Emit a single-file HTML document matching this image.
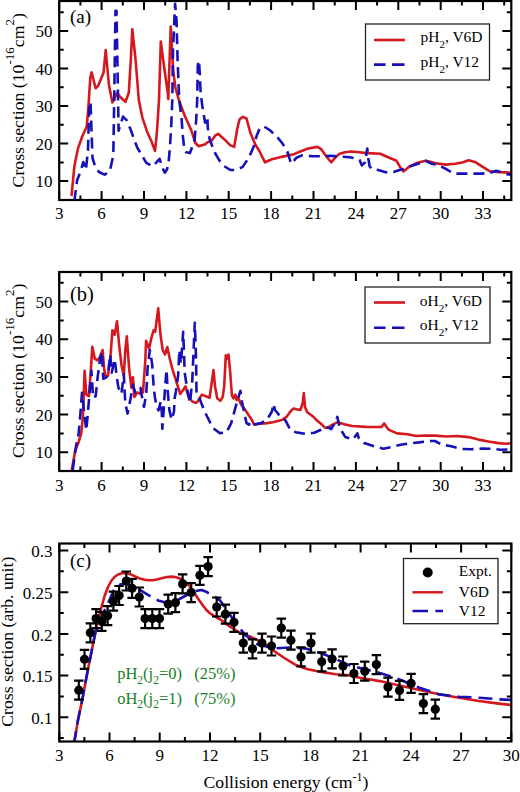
<!DOCTYPE html>
<html><head><meta charset="utf-8"><style>html,body{margin:0;padding:0;background:#fff;width:520px;height:792px;overflow:hidden}svg{display:block}</style></head><body>
<svg width="520" height="792" viewBox="0 0 520 792">
<style>.t{font-family:"Liberation Serif", serif;font-size:17px;fill:#000} .p{font-family:"Liberation Serif", serif;font-size:19px;fill:#000} .a{font-family:"Liberation Serif", serif;font-size:17.7px;fill:#000} .l{font-family:"Liberation Serif", serif;font-size:15.5px;fill:#000} .g{font-family:"Liberation Serif", serif;font-size:16.5px;fill:#1a801f}</style>
<rect width="520" height="792" fill="#fff"/>
<clipPath id="ca"><rect x="59.2" y="1.0" width="452.1" height="199.0"/></clipPath>
<clipPath id="cb"><rect x="59.2" y="272.0" width="452.1" height="199.0"/></clipPath>
<clipPath id="cc"><rect x="59.3" y="543.5" width="452.0" height="198.0"/></clipPath>
<g clip-path="url(#ca)">
<path d="M71.5 196.0L74.4 166.1L78.0 148.4L82.4 136.0L86.8 126.3L88.6 104.2L90.3 77.7L91.6 72.4L95.6 88.3L98.3 85.6L103.6 72.4L105.7 50.0L108.9 84.7L112.4 102.4L117.0 93.2L121.3 98.0L125.5 101.8L128.8 92.7L130.8 60.0L132.3 29.2L135.6 60.0L138.8 100.0L142.3 117.3L146.9 131.2L151.5 141.5L155.0 150.8L156.7 134.6L157.9 117.3L159.0 100.0L160.8 41.5L164.0 66.0L167.7 92.3L168.3 99.0L170.7 26.5L173.2 70.7L175.4 87.7L178.9 100.0L184.6 115.4L191.5 130.8L195.4 143.0L198.5 146.2L204.6 144.6L207.7 142.3L211.5 140.8L215.4 135.4L218.1 133.8L224.2 139.2L230.4 145.4L234.2 146.9L237.3 128.5L239.6 119.2L242.7 116.9L246.5 118.5L250.4 133.0L255.0 143.8L259.6 151.5L265.0 162.3L271.9 159.2L281.2 156.9L288.8 155.4L292.7 154.6L300.4 151.5L308.1 148.5L317.3 146.9L321.2 149.2L325.0 154.6L331.2 162.3L335.8 156.9L339.6 153.8L345.0 152.3L351.2 151.5L358.8 152.3L367.3 153.1L380.4 153.8L385.8 156.2L396.5 160.8L399.6 166.2L403.5 171.5L408.8 166.9L416.5 163.1L425.8 160.8L430.4 161.8L436.3 163.4L445.8 164.6L455.2 163.8L463.1 162.3L468.6 160.2L475.7 162.3L483.6 167.3L489.9 171.3L496.2 172.0L504.1 172.4L513.0 172.8" stroke="#d4181e" stroke-width="2.6" fill="none" stroke-linejoin="round"/>
<path d="M74.4 201.0L77.1 180.2L80.6 171.4L83.3 162.0L85.9 170.0L88.0 150.0L88.8 120.0L89.5 102.4L90.5 102.0L91.5 130.0L92.5 158.0L95.0 166.0L99.0 172.0L104.6 174.6L109.8 171.4L113.3 155.5L114.2 100.0L115.5 10.8L116.5 10.8L117.4 60.0L118.6 130.7L123.0 116.6L126.6 120.1L130.8 130.0L133.7 138.1L137.1 147.3L141.2 154.2L146.3 162.9L152.7 166.3L159.6 158.8L162.5 168.1L164.8 172.7L167.1 169.2L168.8 160.0L170.0 146.2L171.2 126.5L172.3 100.0L173.0 50.0L175.1 3.8L176.5 20.0L177.6 60.0L179.2 100.0L181.5 117.3L182.7 134.6L184.4 149.6L186.2 152.3L190.0 153.0L194.6 140.0L196.2 120.0L197.2 100.0L197.8 65.0L199.0 60.6L199.8 74.2L200.6 92.4L202.9 110.6L205.2 122.7L206.5 118.0L207.4 116.7L207.8 128.0L209.7 139.4L212.0 145.5L215.0 153.0L219.5 160.6L224.2 166.2L230.4 170.0L236.5 170.0L242.7 166.9L248.8 157.7L253.5 146.9L256.5 136.2L259.6 128.5L263.5 126.2L269.6 130.0L276.5 136.2L282.7 143.8L287.3 151.5L291.2 163.8L296.5 157.7L301.9 155.4L312.7 156.2L325.0 156.2L331.2 155.7L338.8 156.6L349.6 157.2L355.8 158.5L359.6 160.0L361.9 165.4L365.0 162.3L367.3 148.5L368.1 156.9L369.6 166.2L371.9 169.2L378.1 170.0L385.8 172.3L393.5 172.0L399.6 170.0L403.5 168.9L410.4 166.2L418.1 163.8L425.8 160.8L431.9 163.8L437.9 165.0L445.8 168.9L453.7 173.6L461.5 173.6L482.0 173.6L489.9 172.8L496.2 170.8L501.0 172.0L507.3 174.4L513.0 174.4" stroke="#1610b8" stroke-width="2.6" fill="none" stroke-linejoin="round" stroke-dasharray="11 6"/>
</g>
<g clip-path="url(#cb)">
<path d="M71.8 470.0L75.2 450.7L78.6 442.2L81.2 433.7L82.9 416.7L83.7 396.2L84.6 370.7L86.3 394.5L88.9 396.2L90.6 374.0L92.3 346.8L94.8 358.7L97.4 360.4L98.0 359.8L100.0 357.0L102.6 350.0L104.1 368.2L105.6 377.3L107.9 375.8L110.2 360.6L112.4 330.3L114.7 334.8L117.0 321.2L119.2 345.5L121.5 365.2L123.8 375.8L125.3 350.0L126.8 336.4L129.1 368.2L131.4 387.9L132.9 377.3L134.4 397.0L137.4 392.4L140.5 393.9L143.0 392.4L145.3 360.6L146.1 340.9L149.1 348.5L151.4 337.9L153.6 330.3L155.2 331.8L158.2 308.3L160.5 334.8L162.7 350.0L165.0 354.5L167.3 347.0L169.5 357.6L172.6 369.7L176.4 381.8L180.2 393.9L182.4 390.9L185.5 386.4L188.5 397.0L192.3 401.5L196.1 403.0L198.1 400.8L201.9 394.6L205.8 396.2L209.6 397.7L211.2 386.2L213.5 370.0L215.0 386.2L217.3 398.5L220.4 400.8L222.7 396.9L224.2 386.2L225.8 355.4L227.3 358.5L228.5 354.6L230.1 370.8L231.9 395.4L233.5 398.5L235.3 394.6L236.5 400.0L238.1 397.7L241.2 404.6L245.8 410.8L248.8 415.4L251.9 420.0L254.2 424.6L259.6 423.8L267.3 423.1L272.7 422.3L281.9 420.0L286.5 416.9L290.4 411.5L293.5 408.5L296.5 409.2L300.4 410.0L302.7 403.1L303.8 393.1L305.0 406.9L307.3 412.3L312.7 416.2L317.3 420.8L321.9 424.6L325.0 427.7L328.1 427.7L332.7 424.6L337.3 422.3L340.4 423.1L345.2 424.4L352.1 426.0L366.0 426.9L381.5 427.0L384.1 423.4L388.4 429.6L397.1 433.4L407.5 434.3L416.1 436.0L425.0 435.5L435.0 435.6L446.7 436.5L456.8 436.0L468.5 437.1L478.5 439.6L488.5 441.5L498.6 443.1L505.3 443.8L513.0 443.1" stroke="#d4181e" stroke-width="2.6" fill="none" stroke-linejoin="round"/>
<path d="M72.7 470.0L76.1 445.6L78.6 433.7L80.3 415.0L82.0 392.8L83.7 408.1L86.3 430.3L88.0 411.6L89.7 391.1L91.4 370.7L93.1 397.9L95.7 396.2L97.4 379.2L99.9 360.4L101.8 351.5L103.3 378.8L106.4 377.3L108.6 368.2L110.2 354.5L111.7 372.7L114.7 359.1L117.0 378.8L118.5 387.9L121.5 393.9L123.8 374.2L124.5 387.9L125.3 403.0L127.6 413.6L130.6 398.5L132.9 384.8L135.2 392.4L140.5 387.9L141.2 393.1L144.0 406.9L146.3 393.1L147.6 368.2L149.8 350.0L152.1 363.6L153.8 388.5L155.0 397.7L156.7 406.9L158.5 410.4L160.8 401.2L161.9 413.8L162.3 428.8L163.7 410.4L164.2 400.0L165.4 383.8L166.5 369.7L167.7 390.8L169.4 410.4L171.7 419.6L174.0 411.5L174.6 398.8L175.8 391.9L178.1 375.8L179.4 350.0L180.9 363.6L183.2 331.8L184.7 372.7L187.0 387.9L190.0 403.0L192.3 380.3L193.8 345.5L194.8 322.7L196.1 360.6L196.5 393.8L199.6 398.5L201.9 404.6L205.0 412.3L208.1 418.5L212.7 427.7L219.6 433.1L226.5 432.3L231.2 423.1L235.0 409.2L238.1 398.5L240.4 390.8L241.9 401.5L244.2 412.3L246.5 423.1L248.8 424.6L251.2 421.5L253.5 424.6L261.2 423.1L267.3 419.2L271.9 411.5L273.5 403.8L275.0 410.0L278.8 414.6L283.5 417.7L286.5 422.3L290.4 430.0L295.8 432.3L305.0 433.8L314.2 432.8L320.4 430.0L326.5 426.9L331.2 429.2L335.0 422.3L337.3 416.9L339.6 426.9L341.9 431.5L345.2 436.9L353.0 439.5L357.3 433.4L359.0 438.6L364.2 443.0L374.6 446.4L383.3 448.7L391.9 446.9L400.6 444.7L412.7 443.0L421.3 442.1L430.0 441.0L435.0 441.0L441.7 444.8L450.1 446.0L461.8 449.0L471.8 449.3L481.9 448.5L491.9 448.8L500.3 449.7L513.0 449.3" stroke="#1610b8" stroke-width="2.6" fill="none" stroke-linejoin="round" stroke-dasharray="11 6"/>
</g>
<g clip-path="url(#cc)">
<path d="M73.8 745.0L78.0 720.0L82.4 698.9L87.9 669.6L92.5 646.7L95.4 631.0L98.9 616.5L101.5 607.0L104.6 596.0L108.0 587.0L111.5 580.5L115.0 576.5L118.5 574.3L122.0 573.2L125.4 573.0L130.0 574.0L134.6 576.2L139.0 578.2L143.9 579.6L148.5 580.3L153.1 580.3L157.8 579.3L162.4 578.0L167.0 577.0L171.6 576.6L175.0 577.0L178.5 578.0L182.0 579.6L185.5 581.9L189.0 585.5L192.4 590.0L196.0 595.5L199.3 600.4L202.8 605.3L206.2 609.7L209.7 613.0L213.2 615.4L216.7 617.5L220.1 619.3L228.8 625.8L240.4 633.0L251.9 637.3L263.5 643.1L275.0 651.7L283.6 657.5L295.2 664.7L306.7 669.0L321.1 671.9L335.6 674.2L350.0 675.4L359.8 677.8L379.7 681.1L399.5 685.4L419.4 689.9L439.2 694.2L459.1 697.7L478.9 701.0L498.8 703.6L513.0 705.2" stroke="#d4181e" stroke-width="2.6" fill="none" stroke-linejoin="round"/>
<path d="M73.8 745.0L78.0 720.0L82.4 698.9L87.9 669.6L92.5 646.7L95.4 633.0L98.5 624.5L101.6 617.5L104.5 610.5L106.9 606.2L110.5 597.5L113.9 590.0L117.4 586.5L120.8 584.2L124.3 583.7L127.7 584.0L134.6 586.6L143.9 592.3L153.1 598.1L158.9 600.7L164.7 602.3L169.3 602.2L173.9 601.6L178.5 599.6L183.1 597.0L187.8 594.5L192.4 592.3L197.0 590.8L201.6 590.0L206.2 591.7L210.9 594.6L215.5 597.2L220.1 600.4L226.0 609.0L234.6 621.4L244.7 634.4L257.7 644.5L275.0 648.3L292.3 647.4L306.7 648.8L321.1 653.2L335.6 658.9L350.0 665.6L359.8 667.9L379.7 672.9L399.5 679.5L419.4 687.7L439.2 694.4L459.1 696.7L478.9 697.7L498.8 699.3L513.0 700.0" stroke="#1610b8" stroke-width="2.6" fill="none" stroke-linejoin="round" stroke-dasharray="14 7"/>
</g>
<path d="M78.8 680.7V699.7M74.1 680.7H83.5M74.1 699.7H83.5" stroke="#000" stroke-width="2.2" fill="none"/>
<circle cx="78.8" cy="690.2" r="4.6" fill="#000"/>
<path d="M84.5 649.8V668.8M79.8 649.8H89.2M79.8 668.8H89.2" stroke="#000" stroke-width="2.2" fill="none"/>
<circle cx="84.5" cy="659.3" r="4.6" fill="#000"/>
<path d="M90.3 623.3V642.3M85.6 623.3H95.0M85.6 642.3H95.0" stroke="#000" stroke-width="2.2" fill="none"/>
<circle cx="90.3" cy="632.8" r="4.6" fill="#000"/>
<path d="M96.1 609.1V628.1M91.4 609.1H100.8M91.4 628.1H100.8" stroke="#000" stroke-width="2.2" fill="none"/>
<circle cx="96.1" cy="618.6" r="4.6" fill="#000"/>
<path d="M101.8 611.9V630.9M97.1 611.9H106.5M97.1 630.9H106.5" stroke="#000" stroke-width="2.2" fill="none"/>
<circle cx="101.8" cy="621.4" r="4.6" fill="#000"/>
<path d="M107.6 606.2V625.2M102.9 606.2H112.3M102.9 625.2H112.3" stroke="#000" stroke-width="2.2" fill="none"/>
<circle cx="107.6" cy="615.7" r="4.6" fill="#000"/>
<path d="M113.4 591.7V610.7M108.7 591.7H118.1M108.7 610.7H118.1" stroke="#000" stroke-width="2.2" fill="none"/>
<circle cx="113.4" cy="601.2" r="4.6" fill="#000"/>
<path d="M119.1 586.0V605.0M114.4 586.0H123.8M114.4 605.0H123.8" stroke="#000" stroke-width="2.2" fill="none"/>
<circle cx="119.1" cy="595.5" r="4.6" fill="#000"/>
<path d="M126.3 571.5V590.5M121.6 571.5H131.0M121.6 590.5H131.0" stroke="#000" stroke-width="2.2" fill="none"/>
<circle cx="126.3" cy="581.0" r="4.6" fill="#000"/>
<path d="M132.1 578.8V597.8M127.4 578.8H136.8M127.4 597.8H136.8" stroke="#000" stroke-width="2.2" fill="none"/>
<circle cx="132.1" cy="588.3" r="4.6" fill="#000"/>
<path d="M139.3 587.5V606.5M134.6 587.5H144.0M134.6 606.5H144.0" stroke="#000" stroke-width="2.2" fill="none"/>
<circle cx="139.3" cy="597.0" r="4.6" fill="#000"/>
<path d="M145.1 609.1V628.1M140.4 609.1H149.8M140.4 628.1H149.8" stroke="#000" stroke-width="2.2" fill="none"/>
<circle cx="145.1" cy="618.6" r="4.6" fill="#000"/>
<path d="M152.3 609.1V628.1M147.6 609.1H157.0M147.6 628.1H157.0" stroke="#000" stroke-width="2.2" fill="none"/>
<circle cx="152.3" cy="618.6" r="4.6" fill="#000"/>
<path d="M159.5 609.1V628.1M154.8 609.1H164.2M154.8 628.1H164.2" stroke="#000" stroke-width="2.2" fill="none"/>
<circle cx="159.5" cy="618.6" r="4.6" fill="#000"/>
<path d="M168.2 594.6V613.6M163.5 594.6H172.9M163.5 613.6H172.9" stroke="#000" stroke-width="2.2" fill="none"/>
<circle cx="168.2" cy="604.1" r="4.6" fill="#000"/>
<path d="M175.4 593.2V612.2M170.7 593.2H180.1M170.7 612.2H180.1" stroke="#000" stroke-width="2.2" fill="none"/>
<circle cx="175.4" cy="602.7" r="4.6" fill="#000"/>
<path d="M182.6 574.4V593.4M177.9 574.4H187.3M177.9 593.4H187.3" stroke="#000" stroke-width="2.2" fill="none"/>
<circle cx="182.6" cy="583.9" r="4.6" fill="#000"/>
<path d="M191.2 583.1V602.1M186.5 583.1H195.9M186.5 602.1H195.9" stroke="#000" stroke-width="2.2" fill="none"/>
<circle cx="191.2" cy="592.6" r="4.6" fill="#000"/>
<path d="M199.9 565.8V584.8M195.2 565.8H204.6M195.2 584.8H204.6" stroke="#000" stroke-width="2.2" fill="none"/>
<circle cx="199.9" cy="575.3" r="4.6" fill="#000"/>
<path d="M208.1 557.1V576.1M203.4 557.1H212.8M203.4 576.1H212.8" stroke="#000" stroke-width="2.2" fill="none"/>
<circle cx="208.1" cy="566.6" r="4.6" fill="#000"/>
<path d="M216.7 597.5V616.5M212.0 597.5H221.4M212.0 616.5H221.4" stroke="#000" stroke-width="2.2" fill="none"/>
<circle cx="216.7" cy="607.0" r="4.6" fill="#000"/>
<path d="M225.4 604.7V623.7M220.7 604.7H230.1M220.7 623.7H230.1" stroke="#000" stroke-width="2.2" fill="none"/>
<circle cx="225.4" cy="614.2" r="4.6" fill="#000"/>
<path d="M234.0 612.8V631.8M229.3 612.8H238.7M229.3 631.8H238.7" stroke="#000" stroke-width="2.2" fill="none"/>
<circle cx="234.0" cy="622.3" r="4.6" fill="#000"/>
<path d="M243.3 633.6V652.6M238.6 633.6H248.0M238.6 652.6H248.0" stroke="#000" stroke-width="2.2" fill="none"/>
<circle cx="243.3" cy="643.1" r="4.6" fill="#000"/>
<path d="M252.5 639.3V658.3M247.8 639.3H257.2M247.8 658.3H257.2" stroke="#000" stroke-width="2.2" fill="none"/>
<circle cx="252.5" cy="648.8" r="4.6" fill="#000"/>
<path d="M262.0 633.6V652.6M257.3 633.6H266.7M257.3 652.6H266.7" stroke="#000" stroke-width="2.2" fill="none"/>
<circle cx="262.0" cy="643.1" r="4.6" fill="#000"/>
<path d="M271.5 636.5V655.5M266.8 636.5H276.2M266.8 655.5H276.2" stroke="#000" stroke-width="2.2" fill="none"/>
<circle cx="271.5" cy="646.0" r="4.6" fill="#000"/>
<path d="M281.3 618.6V637.6M276.6 618.6H286.0M276.6 637.6H286.0" stroke="#000" stroke-width="2.2" fill="none"/>
<circle cx="281.3" cy="628.1" r="4.6" fill="#000"/>
<path d="M290.9 630.7V649.7M286.2 630.7H295.6M286.2 649.7H295.6" stroke="#000" stroke-width="2.2" fill="none"/>
<circle cx="290.9" cy="640.2" r="4.6" fill="#000"/>
<path d="M301.0 647.4V666.4M296.3 647.4H305.7M296.3 666.4H305.7" stroke="#000" stroke-width="2.2" fill="none"/>
<circle cx="301.0" cy="656.9" r="4.6" fill="#000"/>
<path d="M311.0 633.6V652.6M306.3 633.6H315.7M306.3 652.6H315.7" stroke="#000" stroke-width="2.2" fill="none"/>
<circle cx="311.0" cy="643.1" r="4.6" fill="#000"/>
<path d="M321.7 652.3V671.3M317.0 652.3H326.4M317.0 671.3H326.4" stroke="#000" stroke-width="2.2" fill="none"/>
<circle cx="321.7" cy="661.8" r="4.6" fill="#000"/>
<path d="M332.1 649.4V668.4M327.4 649.4H336.8M327.4 668.4H336.8" stroke="#000" stroke-width="2.2" fill="none"/>
<circle cx="332.1" cy="658.9" r="4.6" fill="#000"/>
<path d="M343.0 656.5V675.5M338.3 656.5H347.7M338.3 675.5H347.7" stroke="#000" stroke-width="2.2" fill="none"/>
<circle cx="343.0" cy="666.0" r="4.6" fill="#000"/>
<path d="M353.9 664.0V683.0M349.2 664.0H358.6M349.2 683.0H358.6" stroke="#000" stroke-width="2.2" fill="none"/>
<circle cx="353.9" cy="673.5" r="4.6" fill="#000"/>
<path d="M364.8 661.7V680.7M360.1 661.7H369.5M360.1 680.7H369.5" stroke="#000" stroke-width="2.2" fill="none"/>
<circle cx="364.8" cy="671.2" r="4.6" fill="#000"/>
<path d="M376.4 655.1V674.1M371.7 655.1H381.1M371.7 674.1H381.1" stroke="#000" stroke-width="2.2" fill="none"/>
<circle cx="376.4" cy="664.6" r="4.6" fill="#000"/>
<path d="M388.0 677.6V696.6M383.3 677.6H392.7M383.3 696.6H392.7" stroke="#000" stroke-width="2.2" fill="none"/>
<circle cx="388.0" cy="687.1" r="4.6" fill="#000"/>
<path d="M399.5 680.9V699.9M394.8 680.9H404.2M394.8 699.9H404.2" stroke="#000" stroke-width="2.2" fill="none"/>
<circle cx="399.5" cy="690.4" r="4.6" fill="#000"/>
<path d="M411.1 673.9V692.9M406.4 673.9H415.8M406.4 692.9H415.8" stroke="#000" stroke-width="2.2" fill="none"/>
<circle cx="411.1" cy="683.4" r="4.6" fill="#000"/>
<path d="M423.4 694.1V713.1M418.7 694.1H428.1M418.7 713.1H428.1" stroke="#000" stroke-width="2.2" fill="none"/>
<circle cx="423.4" cy="703.6" r="4.6" fill="#000"/>
<path d="M435.3 699.7V718.7M430.6 699.7H440.0M430.6 718.7H440.0" stroke="#000" stroke-width="2.2" fill="none"/>
<circle cx="435.3" cy="709.2" r="4.6" fill="#000"/>
<rect x="59.2" y="1.0" width="452.1" height="199.0" fill="none" stroke="#000" stroke-width="2.2"/>
<path d="M59.2 200.0V191.0M59.2 1.0V10.0M101.6 200.0V191.0M101.6 1.0V10.0M144.0 200.0V191.0M144.0 1.0V10.0M186.4 200.0V191.0M186.4 1.0V10.0M228.7 200.0V191.0M228.7 1.0V10.0M271.1 200.0V191.0M271.1 1.0V10.0M313.5 200.0V191.0M313.5 1.0V10.0M355.9 200.0V191.0M355.9 1.0V10.0M398.3 200.0V191.0M398.3 1.0V10.0M440.7 200.0V191.0M440.7 1.0V10.0M483.0 200.0V191.0M483.0 1.0V10.0M80.4 200.0V195.5M80.4 1.0V5.5M122.8 200.0V195.5M122.8 1.0V5.5M165.2 200.0V195.5M165.2 1.0V5.5M207.5 200.0V195.5M207.5 1.0V5.5M249.9 200.0V195.5M249.9 1.0V5.5M292.3 200.0V195.5M292.3 1.0V5.5M334.7 200.0V195.5M334.7 1.0V5.5M377.1 200.0V195.5M377.1 1.0V5.5M419.5 200.0V195.5M419.5 1.0V5.5M461.9 200.0V195.5M461.9 1.0V5.5M504.2 200.0V195.5M504.2 1.0V5.5" stroke="#000" stroke-width="2" fill="none"/>
<text x="59.2" y="219.0" text-anchor="middle" class="t">3</text>
<text x="101.6" y="219.0" text-anchor="middle" class="t">6</text>
<text x="144.0" y="219.0" text-anchor="middle" class="t">9</text>
<text x="186.4" y="219.0" text-anchor="middle" class="t">12</text>
<text x="228.7" y="219.0" text-anchor="middle" class="t">15</text>
<text x="271.1" y="219.0" text-anchor="middle" class="t">18</text>
<text x="313.5" y="219.0" text-anchor="middle" class="t">21</text>
<text x="355.9" y="219.0" text-anchor="middle" class="t">24</text>
<text x="398.3" y="219.0" text-anchor="middle" class="t">27</text>
<text x="440.7" y="219.0" text-anchor="middle" class="t">30</text>
<text x="483.0" y="219.0" text-anchor="middle" class="t">33</text>
<path d="M59.2 181.1H68.2M511.3 181.1H502.3M59.2 143.6H68.2M511.3 143.6H502.3M59.2 106.1H68.2M511.3 106.1H502.3M59.2 68.5H68.2M511.3 68.5H502.3M59.2 31.0H68.2M511.3 31.0H502.3M59.2 162.4H63.7M511.3 162.4H506.8M59.2 124.8H63.7M511.3 124.8H506.8M59.2 87.3H63.7M511.3 87.3H506.8M59.2 49.7H63.7M511.3 49.7H506.8M59.2 12.2H63.7M511.3 12.2H506.8" stroke="#000" stroke-width="2" fill="none"/>
<text x="52.6" y="187.3" text-anchor="end" class="t">10</text>
<text x="52.6" y="149.8" text-anchor="end" class="t">20</text>
<text x="52.6" y="112.3" text-anchor="end" class="t">30</text>
<text x="52.6" y="74.7" text-anchor="end" class="t">40</text>
<text x="52.6" y="37.2" text-anchor="end" class="t">50</text>
<rect x="59.2" y="272.0" width="452.1" height="199.0" fill="none" stroke="#000" stroke-width="2.2"/>
<path d="M59.2 471.0V462.0M59.2 272.0V281.0M101.6 471.0V462.0M101.6 272.0V281.0M144.0 471.0V462.0M144.0 272.0V281.0M186.4 471.0V462.0M186.4 272.0V281.0M228.7 471.0V462.0M228.7 272.0V281.0M271.1 471.0V462.0M271.1 272.0V281.0M313.5 471.0V462.0M313.5 272.0V281.0M355.9 471.0V462.0M355.9 272.0V281.0M398.3 471.0V462.0M398.3 272.0V281.0M440.7 471.0V462.0M440.7 272.0V281.0M483.0 471.0V462.0M483.0 272.0V281.0M80.4 471.0V466.5M80.4 272.0V276.5M122.8 471.0V466.5M122.8 272.0V276.5M165.2 471.0V466.5M165.2 272.0V276.5M207.5 471.0V466.5M207.5 272.0V276.5M249.9 471.0V466.5M249.9 272.0V276.5M292.3 471.0V466.5M292.3 272.0V276.5M334.7 471.0V466.5M334.7 272.0V276.5M377.1 471.0V466.5M377.1 272.0V276.5M419.5 471.0V466.5M419.5 272.0V276.5M461.9 471.0V466.5M461.9 272.0V276.5M504.2 471.0V466.5M504.2 272.0V276.5" stroke="#000" stroke-width="2" fill="none"/>
<text x="59.2" y="491.0" text-anchor="middle" class="t">3</text>
<text x="101.6" y="491.0" text-anchor="middle" class="t">6</text>
<text x="144.0" y="491.0" text-anchor="middle" class="t">9</text>
<text x="186.4" y="491.0" text-anchor="middle" class="t">12</text>
<text x="228.7" y="491.0" text-anchor="middle" class="t">15</text>
<text x="271.1" y="491.0" text-anchor="middle" class="t">18</text>
<text x="313.5" y="491.0" text-anchor="middle" class="t">21</text>
<text x="355.9" y="491.0" text-anchor="middle" class="t">24</text>
<text x="398.3" y="491.0" text-anchor="middle" class="t">27</text>
<text x="440.7" y="491.0" text-anchor="middle" class="t">30</text>
<text x="483.0" y="491.0" text-anchor="middle" class="t">33</text>
<path d="M59.2 452.2H68.2M511.3 452.2H502.3M59.2 414.5H68.2M511.3 414.5H502.3M59.2 376.9H68.2M511.3 376.9H502.3M59.2 339.2H68.2M511.3 339.2H502.3M59.2 301.6H68.2M511.3 301.6H502.3M59.2 433.4H63.7M511.3 433.4H506.8M59.2 395.7H63.7M511.3 395.7H506.8M59.2 358.1H63.7M511.3 358.1H506.8M59.2 320.4H63.7M511.3 320.4H506.8M59.2 282.8H63.7M511.3 282.8H506.8" stroke="#000" stroke-width="2" fill="none"/>
<text x="52.6" y="458.4" text-anchor="end" class="t">10</text>
<text x="52.6" y="420.7" text-anchor="end" class="t">20</text>
<text x="52.6" y="383.1" text-anchor="end" class="t">30</text>
<text x="52.6" y="345.4" text-anchor="end" class="t">40</text>
<text x="52.6" y="307.8" text-anchor="end" class="t">50</text>
<rect x="59.3" y="543.5" width="452.0" height="198.0" fill="none" stroke="#000" stroke-width="2.2"/>
<path d="M59.3 741.5V732.5M59.3 543.5V552.5M109.5 741.5V732.5M109.5 543.5V552.5M159.7 741.5V732.5M159.7 543.5V552.5M210.0 741.5V732.5M210.0 543.5V552.5M260.2 741.5V732.5M260.2 543.5V552.5M310.4 741.5V732.5M310.4 543.5V552.5M360.6 741.5V732.5M360.6 543.5V552.5M410.9 741.5V732.5M410.9 543.5V552.5M461.1 741.5V732.5M461.1 543.5V552.5M511.3 741.5V732.5M511.3 543.5V552.5M84.4 741.5V737.0M84.4 543.5V548.0M134.6 741.5V737.0M134.6 543.5V548.0M184.9 741.5V737.0M184.9 543.5V548.0M235.1 741.5V737.0M235.1 543.5V548.0M285.3 741.5V737.0M285.3 543.5V548.0M335.5 741.5V737.0M335.5 543.5V548.0M385.7 741.5V737.0M385.7 543.5V548.0M436.0 741.5V737.0M436.0 543.5V548.0M486.2 741.5V737.0M486.2 543.5V548.0" stroke="#000" stroke-width="2" fill="none"/>
<text x="59.3" y="761.4" text-anchor="middle" class="t">3</text>
<text x="109.5" y="761.4" text-anchor="middle" class="t">6</text>
<text x="159.7" y="761.4" text-anchor="middle" class="t">9</text>
<text x="210.0" y="761.4" text-anchor="middle" class="t">12</text>
<text x="260.2" y="761.4" text-anchor="middle" class="t">15</text>
<text x="310.4" y="761.4" text-anchor="middle" class="t">18</text>
<text x="360.6" y="761.4" text-anchor="middle" class="t">21</text>
<text x="410.9" y="761.4" text-anchor="middle" class="t">24</text>
<text x="461.1" y="761.4" text-anchor="middle" class="t">27</text>
<text x="511.3" y="761.4" text-anchor="middle" class="t">30</text>
<path d="M59.3 717.2H68.3M511.3 717.2H502.3M59.3 675.5H68.3M511.3 675.5H502.3M59.3 633.9H68.3M511.3 633.9H502.3M59.3 592.2H68.3M511.3 592.2H502.3M59.3 550.5H68.3M511.3 550.5H502.3M59.3 738.0H63.8M511.3 738.0H506.8M59.3 696.4H63.8M511.3 696.4H506.8M59.3 654.7H63.8M511.3 654.7H506.8M59.3 613.0H63.8M511.3 613.0H506.8M59.3 571.3H63.8M511.3 571.3H506.8" stroke="#000" stroke-width="2" fill="none"/>
<text x="52.6" y="723.8" text-anchor="end" class="t">0.1</text>
<text x="52.6" y="682.1" text-anchor="end" class="t">0.15</text>
<text x="52.6" y="640.5" text-anchor="end" class="t">0.2</text>
<text x="52.6" y="598.8" text-anchor="end" class="t">0.25</text>
<text x="52.6" y="557.1" text-anchor="end" class="t">0.3</text>
<text x="70" y="23" class="p">(a)</text>
<text x="70" y="301.3" class="p" style="font-size:20.5px">(b)</text>
<text x="70" y="567" class="p">(c)</text>
<text transform="translate(24.3,100.3) rotate(-90)" text-anchor="middle" class="a">Cross section (10<tspan dy="-10" font-size="13">-16</tspan><tspan dy="10">cm</tspan><tspan dy="-10" font-size="13">2</tspan><tspan dy="10">)</tspan></text>
<text transform="translate(24.3,370.8) rotate(-90)" text-anchor="middle" class="a">Cross section (10<tspan dy="-10" font-size="13">-16</tspan><tspan dy="10">cm</tspan><tspan dy="-10" font-size="13">2</tspan><tspan dy="10">)</tspan></text>
<text transform="translate(13,641.7) rotate(-90)" text-anchor="middle" class="a">Cross section (arb. unit)</text>
<text x="286" y="788" text-anchor="middle" class="a">Collision energy (cm<tspan dy="-7" font-size="12">-1</tspan><tspan dy="7">)</tspan></text>
<rect x="365.5" y="24" width="124.0" height="56" fill="#fff" stroke="#222" stroke-width="1.3"/>
<path d="M374 40H405" stroke="#d4181e" stroke-width="2.6"/>
<path d="M374 64.6H385.5M392 64.6H404.5" stroke="#1610b8" stroke-width="2.6"/>
<text x="420.5" y="42.3" class="l">pH<tspan dy="6" font-size="11">2</tspan><tspan dy="-6">, V6D</tspan></text>
<text x="420.5" y="66.8" class="l">pH<tspan dy="6" font-size="11">2</tspan><tspan dy="-6">, V12</tspan></text>
<rect x="365" y="287" width="125" height="56" fill="#fff" stroke="#222" stroke-width="1.3"/>
<path d="M374 302.5H405" stroke="#d4181e" stroke-width="2.6"/>
<path d="M374 327.7H385.5M392 327.7H404.5" stroke="#1610b8" stroke-width="2.6"/>
<text x="419.8" y="305.6" class="l">oH<tspan dy="6" font-size="11">2</tspan><tspan dy="-6">, V6D</tspan></text>
<text x="419.8" y="329.5" class="l">oH<tspan dy="6" font-size="11">2</tspan><tspan dy="-6">, V12</tspan></text>
<rect x="403.5" y="558.5" width="94.5" height="65.20000000000005" fill="#fff" stroke="#222" stroke-width="1.3"/>
<circle cx="427.7" cy="572.5" r="5" fill="#000"/>
<path d="M412.5 592.3H443" stroke="#d4181e" stroke-width="2.4"/>
<path d="M412.5 611H428M435.4 611H443" stroke="#1610b8" stroke-width="2.4"/>
<text x="458.7" y="576" class="l">Expt.</text>
<text x="458.7" y="597" class="l">V6D</text>
<text x="458.7" y="616" class="l">V12</text>
<text x="117.2" y="679.2" class="g">pH<tspan dy="4.4" font-size="11.5">2</tspan><tspan dy="-4.4">(j</tspan><tspan dy="4.4" font-size="11.5">2</tspan><tspan dy="-4.4">=0)</tspan></text>
<text x="194.3" y="679.2" class="g">(25%)</text>
<text x="117.2" y="703.7" class="g">oH<tspan dy="4.4" font-size="11.5">2</tspan><tspan dy="-4.4">(j</tspan><tspan dy="4.4" font-size="11.5">2</tspan><tspan dy="-4.4">=1)</tspan></text>
<text x="194.3" y="703.7" class="g">(75%)</text>
</svg>
</body></html>
